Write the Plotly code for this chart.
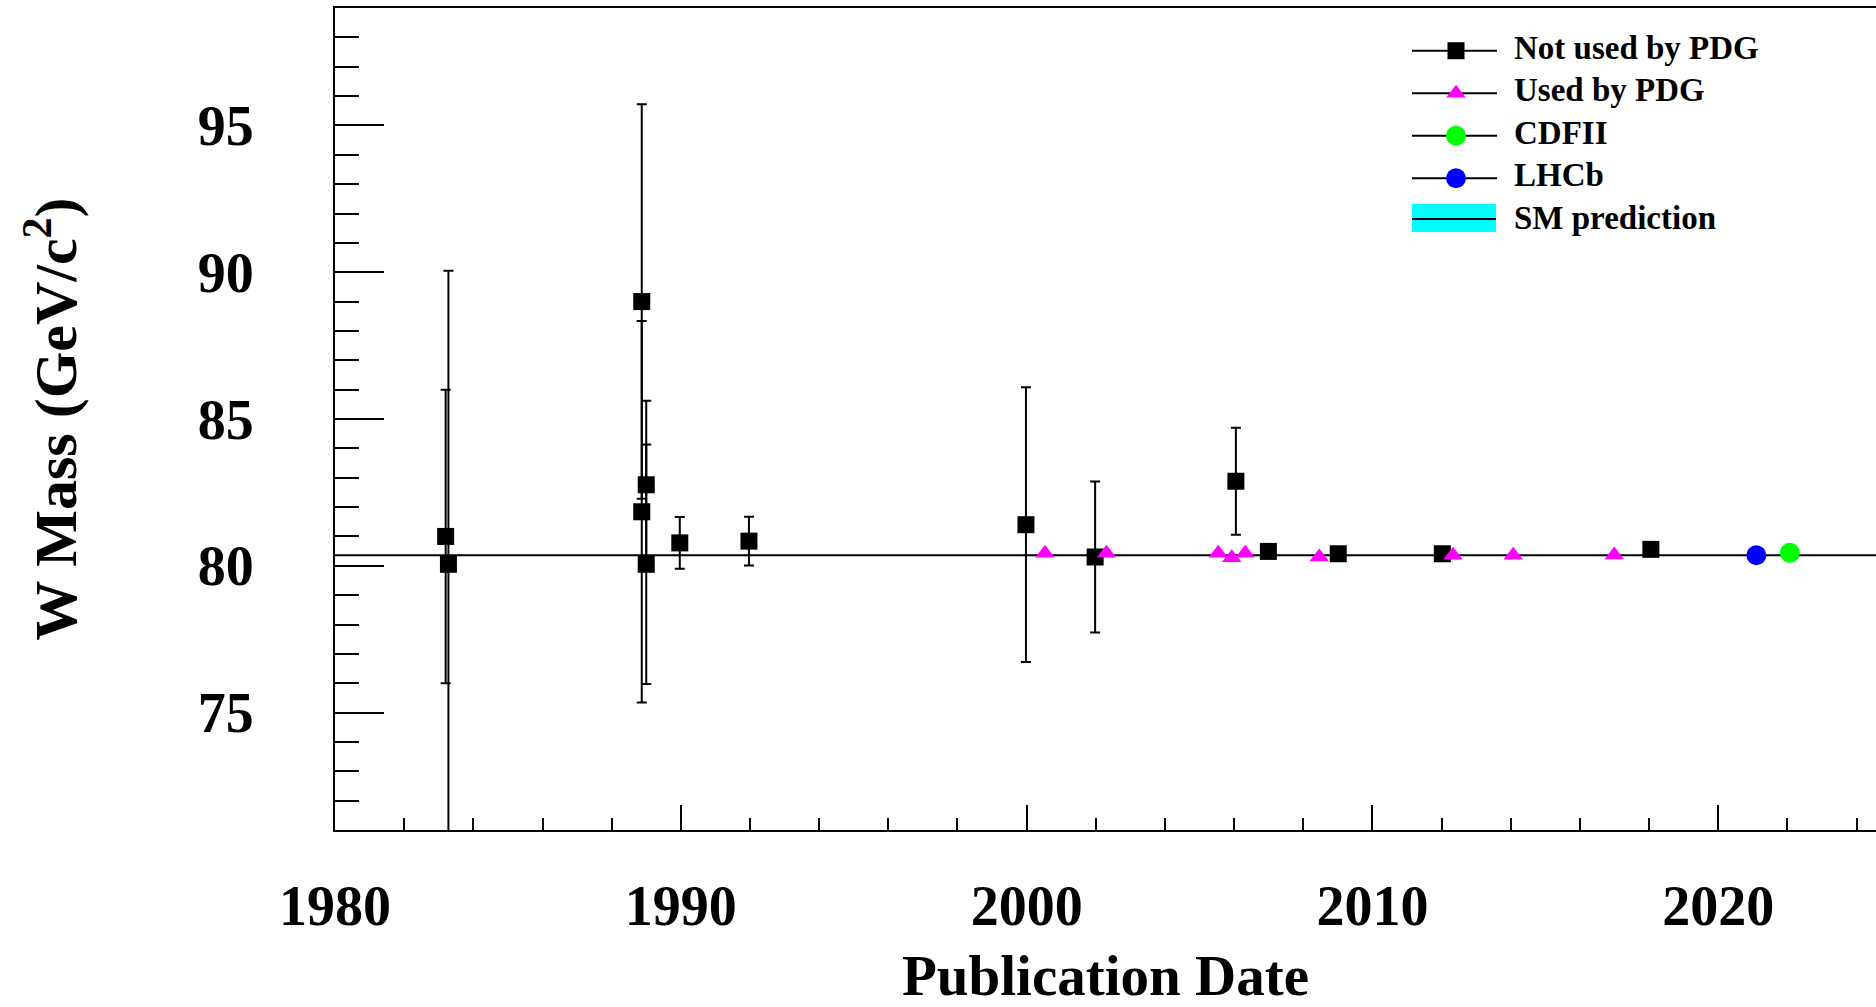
import plotly.graph_objects as go

# ---------------- data ----------------
sm_mass = 80.357
sm_err = 0.006

notused_year = [1983.20, 1983.28, 1988.87, 1988.87, 1989.00, 1989.00, 1989.97,
                1991.97, 1999.98, 2001.98, 2006.05, 2006.99, 2009.01, 2012.02, 2018.05]
notused_mass = [81.00, 80.05, 89.00, 81.84, 82.76, 80.05, 80.78,
                80.84, 81.40, 80.30, 82.88, 80.49, 80.41, 80.41, 80.56]
notused_err = [5.00, 10.00, 6.72, 6.50, 2.86, 4.08, 0.88,
               0.83, 4.68, 2.57, 1.82, 0.20, 0.15, 0.15, 0.20]

used_year = [2000.53, 2002.31, 2005.54, 2005.93, 2006.32, 2008.46, 2012.33, 2014.07, 2016.99]
used_mass = [80.43, 80.43, 80.43, 80.27, 80.43, 80.30, 80.36, 80.36, 80.37]

cdf_year = [2022.07]
cdf_mass = [80.44]
lhcb_year = [2021.10]
lhcb_mass = [80.36]

legend_labels = ["Not used by PDG", "Used by PDG", "CDFII", "LHCb", "SM prediction"]

# ---------------- layout constants ----------------
W, H = 1876, 1007
ML, MR, MT, MB = 335, 0, 8, 177
XMIN, XMAX = 1980.0, 2024.56
YMIN, YMAX = 71.0, 99.0
FONT = "Liberation Serif"

fig = go.Figure()

# SM prediction band + line
fig.add_trace(go.Scatter(
    x=[XMIN, XMAX, XMAX, XMIN], y=[sm_mass - sm_err] * 2 + [sm_mass + sm_err] * 2,
    fill="toself", fillcolor="#00ffff", line=dict(width=0), mode="lines",
    showlegend=False, hoverinfo="skip"))
fig.add_trace(go.Scatter(
    x=[XMIN, XMAX], y=[sm_mass, sm_mass], mode="lines",
    line=dict(color="black", width=2), name="SM prediction", showlegend=False))

# Not used by PDG
fig.add_trace(go.Scatter(
    x=notused_year, y=notused_mass, mode="markers", name="Not used by PDG",
    marker=dict(symbol="square", size=17, color="black"),
    error_y=dict(type="data", array=notused_err, color="black", thickness=2, width=5),
    showlegend=False))

# Used by PDG
fig.add_trace(go.Scatter(
    x=used_year, y=used_mass, mode="markers", name="Used by PDG",
    marker=dict(symbol="triangle-up", size=17, color="#ff00ff"),
    showlegend=False))

# LHCb and CDFII
fig.add_trace(go.Scatter(
    x=lhcb_year, y=lhcb_mass, mode="markers", name="LHCb",
    marker=dict(symbol="circle", size=20, color="#0000ff"), showlegend=False))
fig.add_trace(go.Scatter(
    x=cdf_year, y=cdf_mass, mode="markers", name="CDFII",
    marker=dict(symbol="circle", size=20, color="#00ff00"), showlegend=False))

# ---------------- hand-drawn ROOT style legend (pixel overlay axes) ----------------
leg_x0, leg_x1, leg_xm = 1412, 1497, 1456
leg_rows = [50.7, 93.3, 135.7, 178.3, 220.7]
leg_text_x = 1512
for i in range(4):
    fig.add_trace(go.Scatter(
        x=[leg_x0, leg_x1], y=[leg_rows[i]] * 2, xaxis="x2", yaxis="y2",
        mode="lines", line=dict(color="black", width=2),
        showlegend=False, hoverinfo="skip"))
leg_symbols = [("square", 17, "black"), ("triangle-up", 17, "#ff00ff"),
               ("circle", 20, "#00ff00"), ("circle", 20, "#0000ff")]
for i, (sym, sz, col) in enumerate(leg_symbols):
    fig.add_trace(go.Scatter(
        x=[leg_xm], y=[leg_rows[i]], xaxis="x2", yaxis="y2", mode="markers",
        marker=dict(symbol=sym, size=sz, color=col),
        showlegend=False, hoverinfo="skip"))
# SM band symbol
fig.add_shape(type="rect", xref="x2", yref="y2", x0=leg_x0, x1=leg_x1 - 1,
              y0=204, y1=232, fillcolor="#00ffff", line=dict(width=0), layer="above")
fig.add_shape(type="line", xref="x2", yref="y2", x0=leg_x0, x1=leg_x1 - 1,
              y0=219, y1=219, line=dict(color="black", width=2), layer="above")
for i, lab in enumerate(legend_labels):
    fig.add_annotation(
        x=leg_text_x, y=leg_rows[i] - 3, xref="x2", yref="y2", text="<b>%s</b>" % lab,
        showarrow=False, xanchor="left", yanchor="middle",
        font=dict(family=FONT, size=33, color="black"))

axis_font = dict(family=FONT, size=56, color="black", weight="bold")

fig.update_layout(
    width=W, height=H,
    margin=dict(l=ML, r=MR, t=MT, b=MB, pad=0, autoexpand=False),
    paper_bgcolor="white", plot_bgcolor="white",
    showlegend=False,
    xaxis=dict(
        range=[XMIN, XMAX], showgrid=False, zeroline=False, automargin=False,
        showline=True, linecolor="black", linewidth=2, mirror=True,
        ticks="inside", ticklen=25, tickwidth=2, tickcolor="black",
        tick0=1980, dtick=10,
        minor=dict(ticks="inside", ticklen=12, tickwidth=2, tickcolor="black", dtick=2),
        tickfont=axis_font, ticklabelstandoff=26,
        title=dict(text="<b>Publication Date</b>", font=dict(family=FONT, size=57, color="black"),
                   standoff=34)),
    yaxis=dict(
        range=[YMIN, YMAX], showgrid=False, zeroline=False, automargin=False,
        showline=True, linecolor="black", linewidth=2, mirror=False,
        ticks="inside", ticklen=49, tickwidth=2, tickcolor="black",
        tick0=75, dtick=5,
        minor=dict(ticks="inside", ticklen=24, tickwidth=2, tickcolor="black", dtick=1),
        tickfont=axis_font, ticklabelstandoff=68,
        title=dict(text="<b>W Mass (GeV/c<sup>2</sup>)</b>",
                   font=dict(family=FONT, size=60, color="black"), standoff=102)),
    xaxis2=dict(overlaying="x", range=[ML, W - MR], visible=False, anchor="y2"),
    yaxis2=dict(overlaying="y", range=[H - MB, MT], visible=False, anchor="x2"),
)

fig.write_html("out.html", config={"displayModeBar": False},
               post_script="document.body.style.margin='0';document.body.style.overflow='hidden';")
